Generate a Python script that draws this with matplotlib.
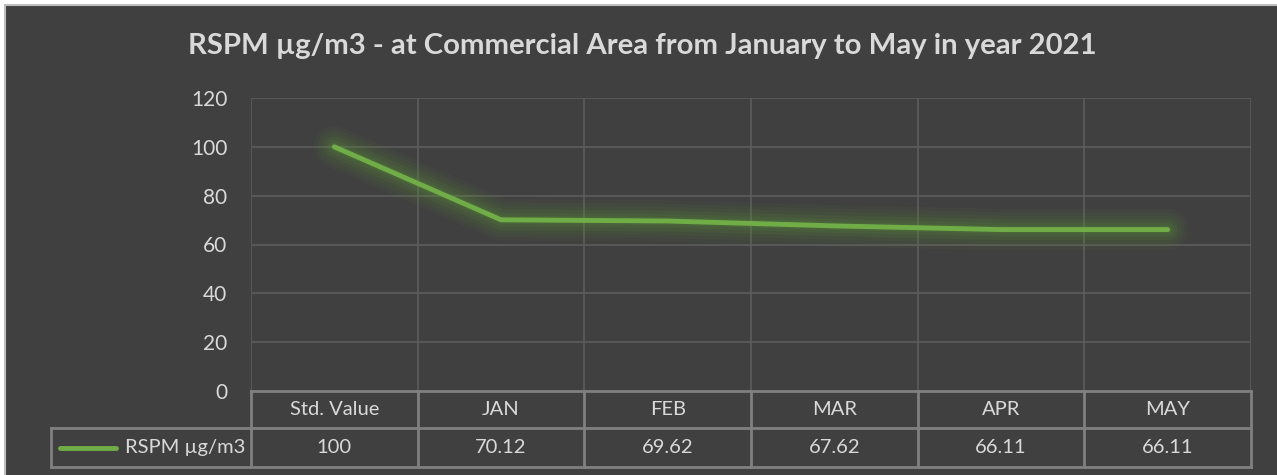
import numpy as np
import matplotlib.pyplot as plt
import matplotlib.transforms as mtransforms
from matplotlib.patches import Rectangle

plt.rcParams['font.family'] = ['Lato', 'DejaVu Sans']

# Données
categories = ["Std. Value", "JAN", "FEB", "MAR", "APR", "MAY"]
rspm = [100, 70.12, 69.62, 67.62, 66.11, 66.11]
value_labels = ["100", "70.12", "69.62", "67.62", "66.11", "66.11"]
series_name = "RSPM µg/m3"
title = "RSPM µg/m3 - at Commercial Area from January to May in year 2021"

W, H = 1277, 475
bg = "#404040"
txt = "#d9d9d9"
green = "#70AD47"
grid_c = "#5c5c5c"
tab_c = "#808080"

fig = plt.figure(figsize=(W / 100, H / 100), dpi=100, facecolor="white")
# fond sombre avec bordure claire
fig.patches.append(Rectangle((5 / W, -0.01), 1, 1.01 - 5 / H, transform=fig.transFigure,
                             facecolor=bg, edgecolor="#bfbfbf", lw=1.5, zorder=0))

left, right, top, bottom = 251, 1251, 98, 391
ax = fig.add_axes([left / W, (H - bottom) / H, (right - left) / W, (bottom - top) / H])
ax.set_zorder(2)
ax.patch.set_alpha(0)

x = np.arange(len(categories))

# effet "glow"
for lw, a in [(30, 0.05), (25, 0.06), (20, 0.07), (15, 0.09), (10, 0.11), (6, 0.13)]:
    ax.plot(x, rspm, color="#5f9e35", lw=lw, alpha=a, solid_capstyle="round",
            solid_joinstyle="round", zorder=2)
ax.plot(x, rspm, color=green, lw=3.5, solid_capstyle="round", zorder=3)

ax.set_xlim(-0.5, len(categories) - 0.5)
ax.set_ylim(0, 120)
ax.set_yticks(range(0, 121, 20))
ax.set_xticks([])
ax.tick_params(axis="y", length=0, pad=17, labelsize=15, labelcolor=txt)
for s in ax.spines.values():
    s.set_visible(False)

# quadrillage
for yv in range(20, 121, 20):
    ax.axhline(yv, color=grid_c, lw=1.2, zorder=1)
for xv in np.arange(-0.5, len(categories), 1):
    ax.axvline(xv, color=grid_c, lw=1.2, zorder=1)

# table de données sous le graphique
tr = mtransforms.blended_transform_factory(ax.transData, ax.transAxes)
ph = bottom - top
cw = (right - left) / len(categories)
px2x = lambda p: (p - left) / cw - 0.5
r0, r1, r2 = 0, -37 / ph, -76 / ph
x_leg = px2x(51)
n = len(categories)
kw = dict(color=tab_c, lw=2, transform=tr, clip_on=False, zorder=4)
ax.plot([-0.5, n - 0.5], [r0, r0], **kw)
ax.plot([x_leg, n - 0.5], [r1, r1], **kw)
ax.plot([x_leg, n - 0.5], [r2, r2], **kw)
ax.plot([x_leg, x_leg], [r1, r2], **kw)
for xv in np.arange(-0.5, n, 1):
    ax.plot([xv, xv], [r0, r2], **kw)

for i, (c, v) in enumerate(zip(categories, value_labels)):
    ax.text(i, (r0 + r1) / 2, c, transform=tr, ha="center", va="center",
            color=txt, fontsize=14.5)
    ax.text(i, (r1 + r2) / 2, v, transform=tr, ha="center", va="center",
            color=txt, fontsize=14.5)

# légende dans la table
ax.plot([px2x(60), px2x(116)], [(r1 + r2) / 2] * 2, color=green, lw=3.5,
        solid_capstyle="round", transform=tr, clip_on=False, zorder=5)
ax.text(px2x(245), (r1 + r2) / 2, series_name, transform=tr, ha="right", va="center",
        color=txt, fontsize=14.5)

fig.text(642 / W, 1 - 46 / H, title, ha="center", va="center", color=txt,
         fontsize=21.1, fontweight="bold", zorder=3)

fig.savefig("out.png", dpi=100, facecolor="white")
